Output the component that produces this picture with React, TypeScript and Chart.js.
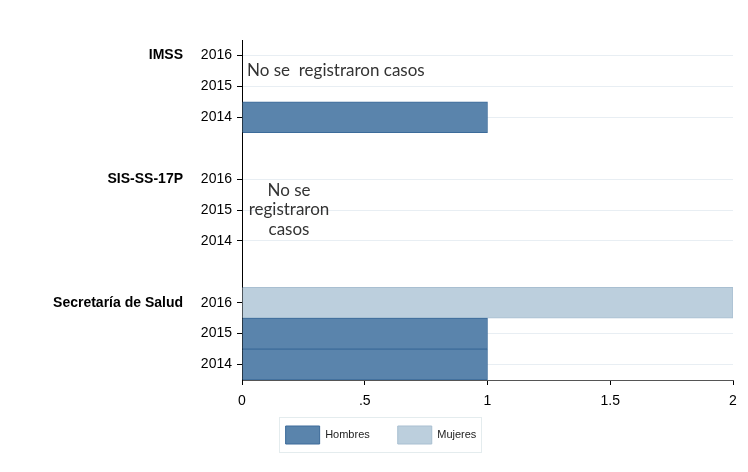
import React, { useEffect, useRef } from "react";
import { Chart, registerables } from "chart.js";

Chart.register(...registerables);

// ---- data ----
const groups = ["IMSS", "SIS-SS-17P", "Secretaría de Salud"];
const years = ["2016", "2015", "2014"];
// values per group, in the order of `years`
const hombres: (number | null)[][] = [
  [null, null, 1],
  [null, null, null],
  [null, 1, 1],
];
const mujeres: (number | null)[][] = [
  [null, null, null],
  [null, null, null],
  [2, null, null],
];
const seriesNames = ["Hombres", "Mujeres"];
const xTicks = [0, 0.5, 1, 1.5, 2];
const noteImss = ["No se  registraron casos"];
const noteSis = ["No se", "registraron", "casos"];

// ---- build category rows (gap row between groups) ----
const labels: string[] = [];
const hData: (number | null)[] = [];
const mData: (number | null)[] = [];
groups.forEach((g, gi) => {
  if (gi > 0) {
    labels.push("");
    hData.push(null);
    mData.push(null);
  }
  years.forEach((yr, yi) => {
    labels.push(yr);
    hData.push(hombres[gi][yi]);
    mData.push(mujeres[gi][yi]);
  });
});
const rowOfGroup = (gi: number) => gi * (years.length + 1);

const SANS = '"Liberation Sans", Arial, sans-serif';
const LEGEND_SHIFT = 18;

const decor = {
  id: "decor",
  afterLayout(chart: any) {
    const lg = chart.legend;
    if (lg) {
      lg.top -= LEGEND_SHIFT;
      lg.bottom -= LEGEND_SHIFT;
    }
  },
  afterDraw(chart: any) {
    const { ctx, scales, chartArea } = chart;
    const x = scales.x;
    const y = scales.y;
    ctx.save();
    // group labels
    ctx.font = `bold 14px ${SANS}`;
    ctx.fillStyle = "#000";
    ctx.textAlign = "right";
    ctx.textBaseline = "middle";
    groups.forEach((g, gi) => {
      ctx.fillText(g, chartArea.left - 59, y.getPixelForValue(rowOfGroup(gi)));
    });
    // notes
    ctx.font = '17px Lato, "Open Sans", sans-serif';
    ctx.fillStyle = "#333";
    ctx.textAlign = "left";
    const r0 = rowOfGroup(0);
    const yImss = (y.getPixelForValue(r0) + y.getPixelForValue(r0 + 1)) / 2;
    ctx.fillText(noteImss[0], x.getPixelForValue(0) + 5, yImss);
    ctx.textAlign = "center";
    const r1 = rowOfGroup(1) + 1;
    const yc = y.getPixelForValue(r1);
    const lh = 19.5;
    noteSis.forEach((t, i) => {
      ctx.fillText(t, x.getPixelForValue(0) + 47, yc + (i - (noteSis.length - 1) / 2) * lh);
    });
    // legend border
    const lg = chart.legend;
    if (lg && lg.legendHitBoxes && lg.legendHitBoxes.length) {
      const hb = lg.legendHitBoxes;
      const first = hb[0];
      const last = hb[hb.length - 1];
      const l = first.left - 7;
      const r = last.left + last.width + 4;
      const t = first.top - 9;
      const b = first.top + 18 + 8;
      ctx.strokeStyle = "#e4ecee";
      ctx.lineWidth = 1;
      ctx.strokeRect(Math.round(l) + 0.5, Math.round(t) + 0.5, Math.round(r - l), Math.round(b - t));
    }
    ctx.restore();
  },
};

export default function App() {
  const ref = useRef<HTMLCanvasElement>(null);
  useEffect(() => {
    const canvas = ref.current!;
    const isGap = (i: number) => labels[i] === "";
    const chart = new Chart(canvas, {
      type: "bar",
      data: {
        labels,
        datasets: [
          {
            label: seriesNames[0],
            data: hData,
            backgroundColor: "#5a84ac",
            borderColor: "#3c6b9a",
            borderWidth: 1,
            barPercentage: 1,
            categoryPercentage: 1,
          },
          {
            label: seriesNames[1],
            data: mData,
            backgroundColor: "#bccfdd",
            borderColor: "#a9bfd1",
            borderWidth: 1,
            barPercentage: 1,
            categoryPercentage: 1,
          },
        ],
      },
      options: {
        indexAxis: "y",
        responsive: false,
        animation: false,
        layout: { padding: { left: 29, right: 15, top: 40, bottom: 0 } },
        scales: {
          x: {
            type: "linear",
            stacked: true,
            min: 0,
            max: 2,
            afterFit: (s: any) => {
              s.height = 36;
            },
            afterBuildTicks: (s: any) => {
              s.ticks = xTicks.map((v) => ({ value: v }));
            },
            ticks: {
              autoSkip: false,
              maxRotation: 0,
              padding: 8,
              color: "#000",
              font: { family: SANS, size: 14 },
              callback: (v: any) => String(v).replace(/^0\./, "."),
            },
            grid: {
              drawOnChartArea: false,
              drawTicks: true,
              tickLength: 5,
              tickColor: "#000",
            },
            border: { display: true, color: "#555", width: 1 },
          },
          y: {
            type: "category",
            stacked: true,
            afterFit: (s: any) => {
              s.width = 213;
            },
            ticks: {
              autoSkip: false,
              padding: 5,
              color: "#000",
              font: { family: SANS, size: 14 },
            },
            grid: {
              offset: false,
              drawTicks: true,
              tickLength: 5,
              tickWidth: 1,
              color: (c: any) => (isGap(c.index) ? "rgba(0,0,0,0)" : "#e8eef3"),
              tickColor: (c: any) => (isGap(c.index) ? "rgba(0,0,0,0)" : "#000"),
            },
            border: { display: true, color: "#000", width: 1 },
          },
        },
        plugins: {
          legend: {
            position: "bottom",
            labels: {
              boxWidth: 34,
              boxHeight: 18,
              padding: 28,
              color: "#222",
              font: { family: SANS, size: 11 },
            },
          },
          tooltip: { enabled: false },
        },
      },
      plugins: [decor],
    } as any);
    return () => chart.destroy();
  }, []);
  return (
    <div style={{ position: "fixed", left: 0, top: 0, width: 748, height: 472, background: "#fff" }}>
      <canvas ref={ref} width={748} height={472} style={{ display: "block" }} />
    </div>
  );
}
